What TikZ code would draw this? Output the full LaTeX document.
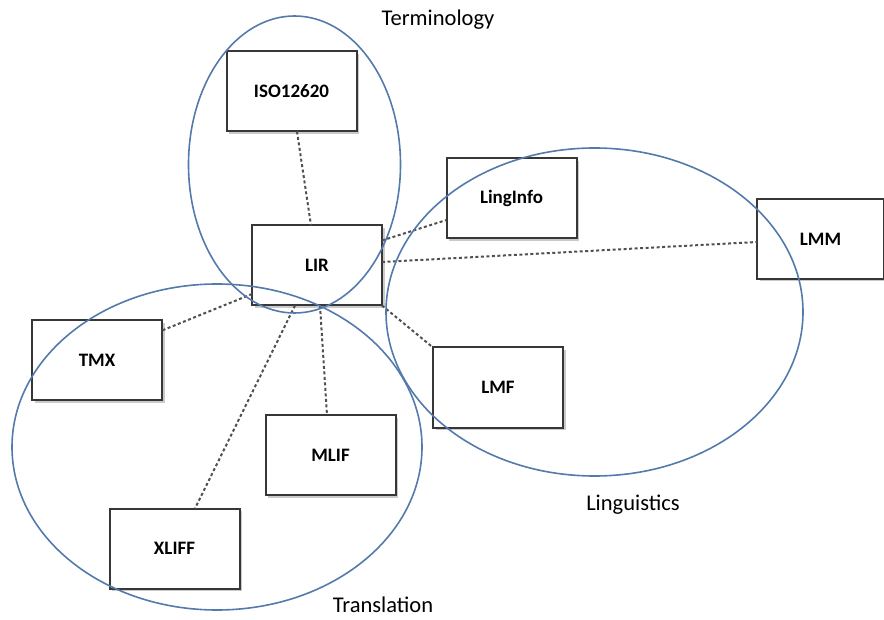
\documentclass[tikz,border=0pt]{standalone}
\usepackage{fontspec}
\setmainfont{Carlito}
\usetikzlibrary{calc,shapes.geometric,shadows}
\definecolor{ringblue}{RGB}{84,122,172}
\definecolor{boxline}{RGB}{55,55,55}
\definecolor{linkgray}{RGB}{80,80,80}
\tikzset{
  stdbox/.style={draw=boxline, line width=2pt, fill=white, minimum width=130pt, minimum height=80pt,
    inner sep=0pt, outer sep=0pt, font=\fontsize{19}{21}\selectfont\bfseries,
    drop shadow={shadow xshift=2.5pt, shadow yshift=-2.5pt, fill=black!35, opacity=0.6}},
  ring/.style={draw=ringblue, line width=1.6pt, ellipse, inner sep=0pt, outer sep=0pt},
  link/.style={draw=linkgray, line width=2pt, dash pattern=on 3pt off 2.5pt},
  grouplabel/.style={font=\fontsize{22.5}{25}\selectfont, inner sep=0pt}
}
\begin{document}
\begin{tikzpicture}[x=1pt, y=-1pt]
\useasboundingbox (0,0) rectangle (884,620);
% boxes
\node[stdbox] (ISO) at (291.5,91.5) {ISO12620};
\node[stdbox] (LIR) at (317,265.5) {LIR};
\node[stdbox] (LING) at (511.5,198.5) {LingInfo};
\node[stdbox, minimum width=127pt] (LMM) at (820.5,239) {LMM};
\node[stdbox] (TMX) at (97,360.5) {TMX};
\node[stdbox] (LMF) at (498,387.5) {LMF};
\node[stdbox] (MLIF) at (330.5,455) {MLIF};
\node[stdbox] (XLIFF) at (174.5,548.5) {XLIFF};
% connectors
\draw[link] ($(ISO.south)+(5.5,0)$) -- ($(LIR.north)+(-6,0)$);
\draw[link] ($(LIR.east)+(0,-25)$) -- ($(LING.west)+(0,21.5)$);
\draw[link] ($(LIR.east)+(0,-3.5)$) -- ($(LMM.west)+(0,3)$);
\draw[link] (LIR.south east) -- (LMF.north west);
\draw[link] ($(LIR.west)+(0,28.5)$) -- ($(TMX.east)+(0,-30)$);
\draw[link] ($(LIR.south)+(-22,0)$) -- ($(XLIFF.north)+(20.5,0)$);
\draw[link] ($(LIR.south)+(3,0)$) -- ($(MLIF.north)+(-3.5,0)$);
% groups
\node[ring, minimum width=212pt, minimum height=297pt] (term) at (294.5,164.5) {};
\node[ring, minimum width=417pt, minimum height=328pt] (ling) at (594.5,312) {};
\node[ring, minimum width=410pt, minimum height=326pt] (trans) at (217,447) {};
\node[grouplabel] (termlabel) at (438,20) {Terminology};
\node[grouplabel] (linglabel) at (633,505) {Linguistics};
\node[grouplabel] (translabel) at (383,605) {Translation};
\end{tikzpicture}
\end{document}
